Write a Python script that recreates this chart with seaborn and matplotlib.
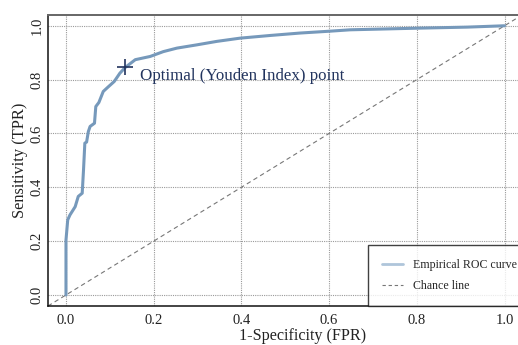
import matplotlib
matplotlib.use("Agg")
import matplotlib.pyplot as plt
import seaborn as sns
import pandas as pd
from matplotlib.lines import Line2D

fpr = [0, 0, 0.004, 0.009, 0.021, 0.028, 0.037, 0.040, 0.043, 0.047, 0.051, 0.055,
       0.065, 0.068, 0.075, 0.085, 0.097, 0.110, 0.123, 0.135, 0.158, 0.192, 0.222,
       0.253, 0.298, 0.344, 0.397, 0.466, 0.534, 0.603, 0.648, 0.80, 0.915, 1.0]
tpr = [0, 0.204, 0.279, 0.297, 0.328, 0.366, 0.378, 0.465, 0.564, 0.568, 0.607, 0.626,
       0.638, 0.700, 0.715, 0.756, 0.774, 0.793, 0.824, 0.845, 0.874, 0.886, 0.904,
       0.917, 0.929, 0.942, 0.954, 0.964, 0.973, 0.980, 0.985, 0.991, 0.995, 1.0]
opt_point = (0.135, 0.845)
opt_label = "Optimal (Youden Index) point"
ticks = [0.0, 0.2, 0.4, 0.6, 0.8, 1.0]
tick_labels = ["0.0", "0.2", "0.4", "0.6", "0.8", "1.0"]

sns.set_style("white")
plt.rcParams['font.family'] = ['Liberation Serif', 'DejaVu Serif']

fig = plt.figure(figsize=(5.18, 3.45), dpi=100)
ax_left, ax_right = 48, 526
ax = fig.add_axes([ax_left/518, 1 - 306/345, (ax_right - ax_left)/518, (306 - 15)/345])

roc_color = "#7699BB"
navy = "#22345E"

df = pd.DataFrame({"fpr": fpr, "tpr": tpr})
ax.axline((0, 0), slope=1, color="#777777", lw=0.8, ls=(0, (4, 3)), zorder=2)
sns.lineplot(data=df, x="fpr", y="tpr", sort=False, estimator=None, ax=ax,
             color=roc_color, lw=2.2, zorder=3)
ax.plot([opt_point[0]], [opt_point[1]], marker="+", ms=12, mew=1.2, color=navy,
        zorder=4, ls="none")
ax.text(opt_point[0] + 0.034, opt_point[1] - 0.03, opt_label, color=navy,
        fontsize=12.2, va="center", ha="left")

ax.set_xlim(-0.041, 1.049)
ax.set_ylim(-0.041, 1.04)
ax.set_xticks(ticks)
ax.set_xticklabels(tick_labels)
ax.set_yticks(ticks)
ax.set_yticklabels(tick_labels, rotation=90, va="center")
ax.tick_params(axis="both", length=0, labelsize=10.5, colors="#222222")
ax.tick_params(axis="x", pad=6)
ax.tick_params(axis="y", pad=3)
ax.grid(True, color="#9a9a9a", ls=(0, (1, 1)), lw=0.8)
ax.set_axisbelow(True)

ax.set_xlabel("1-Specificity (FPR)", fontsize=11.6, color="#222222")
ax.xaxis.set_label_coords((303 - ax_left) / (ax_right - ax_left), -0.077)
ax.set_ylabel("Sensitivity (TPR)", fontsize=11.8, labelpad=2, color="#222222")

for s in ["left", "bottom"]:
    ax.spines[s].set_color("#111111")
    ax.spines[s].set_linewidth(1.1)
ax.spines["top"].set_color("#666666")
ax.spines["top"].set_linewidth(1.4)
ax.spines["right"].set_color("#666666")

handles = [Line2D([], [], color="#AFC5DA", lw=2.0),
           Line2D([], [], color="#777777", lw=0.8, ls=(0, (3, 2.5)))]
leg = ax.legend(handles, ["Empirical ROC curve", "Chance line"], loc="lower left",
                bbox_to_anchor=((368 - ax_left) / (ax_right - ax_left), 0.0),
                borderaxespad=0, fontsize=8.6,
                frameon=True, fancybox=False, edgecolor="#111111",
                handlelength=1.8, handletextpad=0.85, borderpad=1.15,
                labelspacing=0.8)
leg.get_frame().set_linewidth(1.0)

fig.savefig("out.png", dpi=100)
